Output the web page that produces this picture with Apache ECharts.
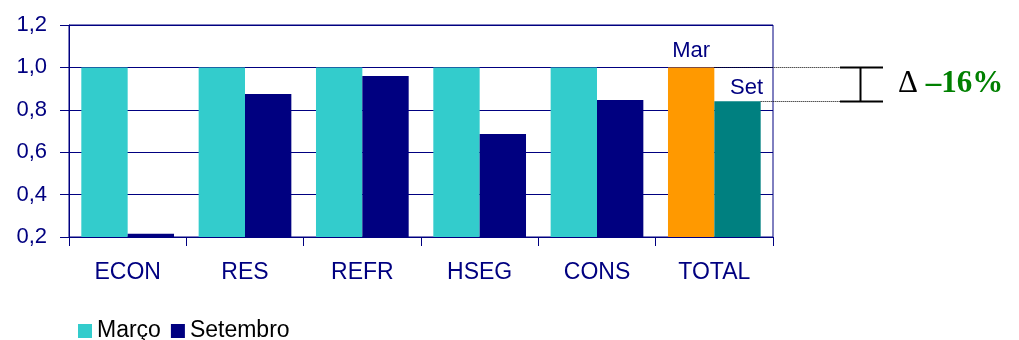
<!DOCTYPE html>
<html><head><meta charset="utf-8">
<script src="https://cdn.jsdelivr.net/npm/echarts@6/dist/echarts.min.js"></script>
<style>html,body{margin:0;padding:0;background:#fff}#c{width:1019px;height:340px}</style>
</head><body><div id="c"></div>
<script>
var categories = ['ECON', 'RES', 'REFR', 'HSEG', 'CONS', 'TOTAL'];
var marco = [1.0, 1.0, 1.0, 1.0, 1.0, 1.0];
var setembro = [0.215, 0.875, 0.96, 0.686, 0.846, 0.84];
var seriesNames = ['Março', 'Setembro'];
var totalLabels = ['Mar', 'Set'];
var deltaText = '–16%';

var navy = '#000080';
var chart = echarts.init(document.getElementById('c'));
var last = categories.length - 1;

function mkData(arr, totalColor, label, labelOffset) {
  return arr.map(function (v, i) {
    if (i !== last) return v;
    return {
      value: v,
      itemStyle: { color: totalColor },
      label: { show: true, position: 'top', formatter: label, color: navy,
        fontFamily: 'Liberation Sans', fontSize: 22, offset: labelOffset }
    };
  });
}

chart.setOption({
  animation: false,
  grid: { left: 69, right: 246, top: 25, bottom: 103, show: true, borderColor: navy, borderWidth: 1 },
  legend: {
    left: 73, top: 313, itemWidth: 14, itemHeight: 14, itemGap: 10, icon: 'rect',
    textStyle: { fontFamily: 'Liberation Sans', fontSize: 23, color: '#000', lineHeight: 26 },
    data: seriesNames
  },
  xAxis: {
    type: 'category', data: categories,
    axisLine: { lineStyle: { color: navy, width: 1 } },
    axisTick: { show: true, length: 9, lineStyle: { color: navy } },
    axisLabel: { color: navy, fontFamily: 'Liberation Sans', fontSize: 23, margin: 24 }
  },
  yAxis: {
    type: 'value', min: 0.2, max: 1.2, interval: 0.2,
    axisLine: { show: true, lineStyle: { color: navy, width: 1 } },
    axisTick: { show: true, length: 9, lineStyle: { color: navy } },
    splitLine: { show: true, lineStyle: { color: navy, width: 1 } },
    axisLabel: { color: navy, fontFamily: 'Liberation Sans', fontSize: 22, margin: 22,
      formatter: function (v) { return v.toFixed(1).replace('.', ','); } }
  },
  series: [
    { name: seriesNames[0], type: 'bar', data: mkData(marco, '#FF9900', totalLabels[0], [0, 0]),
      itemStyle: { color: '#33CCCC' }, barGap: '0%', barCategoryGap: '21%' },
    { name: seriesNames[1], type: 'bar', data: mkData(setembro, '#008080', totalLabels[1], [9, 3]),
      itemStyle: { color: navy }, barGap: '0%', barCategoryGap: '21%' }
  ]
});

// annotation built from axis scale
var yTop = Math.round(chart.convertToPixel({ yAxisIndex: 0 }, marco[last])) + 0.5;
var ySet = Math.round(chart.convertToPixel({ yAxisIndex: 0 }, setembro[last])) + 0.5;
var xC = chart.convertToPixel({ xAxisIndex: 0 }, last);
var bandW = chart.convertToPixel({ xAxisIndex: 0 }, 1) - chart.convertToPixel({ xAxisIndex: 0 }, 0);
var barW = bandW * 0.79 / 2;
var xMarEnd = xC;
var xSetEnd = xC + barW;
var xDotEnd = 855, xBeamL = 840, xBeamR = 883, xBeamC = 860.5;
var dot = { stroke: '#000', lineWidth: 1, lineDash: [1, 1] };
var solid = { stroke: '#000', lineWidth: 2 };
chart.setOption({
  graphic: [
    { type: 'line', shape: { x1: xMarEnd, y1: yTop, x2: xDotEnd, y2: yTop }, style: dot, z: 10 },
    { type: 'line', shape: { x1: xSetEnd, y1: ySet, x2: xDotEnd, y2: ySet }, style: dot, z: 10 },
    { type: 'line', shape: { x1: xBeamL, y1: yTop, x2: xBeamR, y2: yTop }, style: solid },
    { type: 'line', shape: { x1: xBeamL, y1: ySet, x2: xBeamR, y2: ySet }, style: solid },
    { type: 'line', shape: { x1: xBeamC, y1: yTop, x2: xBeamC, y2: ySet }, style: solid },
    { type: 'text', x: 898, y: (yTop + ySet) / 2 - 1,
      style: { text: '{d|Δ\u00a0}{p|' + deltaText + '}', verticalAlign: 'middle',
        rich: {
          d: { fontFamily: 'Liberation Serif', fontSize: 31, fill: '#000', fontWeight: 'normal' },
          p: { fontFamily: 'Liberation Serif', fontSize: 31, fill: '#008000', fontWeight: 'bold' }
        } } }
  ]
});
</script>
</body></html>
